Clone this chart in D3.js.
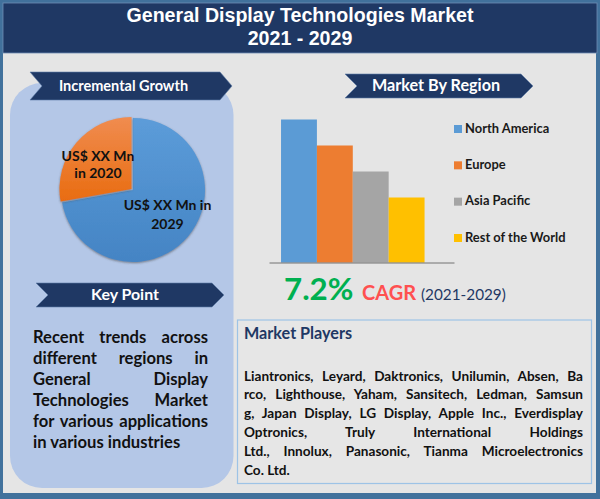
<!DOCTYPE html>
<html>
<head>
<meta charset="utf-8">
<script src="https://cdn.jsdelivr.net/npm/d3@7"></script>
<style>
  html, body { margin: 0; padding: 0; background: #fff; }
  svg { display: block; }
  text { font-family: Lato, sans-serif; font-weight: 700; }
</style>
</head>
<body>
<svg id="chart" width="600" height="499"></svg>
<script>
// values
const pieLabels = ["2029", "2020"];
const pieValues = [72.2, 27.8];
const regions = ["North America", "Europe", "Asia Pacific", "Rest of the World"];
const regionValues = [5.5, 4.5, 3.5, 2.5];
const regionColors = ["#5b9bd5", "#ed7d31", "#a5a5a5", "#ffc000"];
const titleLines = ["General Display Technologies Market", "2021 - 2029"];
const keyPointLines = ["Recent trends across", "different regions in", "General Display", "Technologies Market", "for various applications", "in various industries"];
const playerLines = [
  "Liantronics, Leyard, Daktronics, Unilumin, Absen, Ba",
  "rco, Lighthouse, Yaham, Sansitech, Ledman, Samsun",
  "g, Japan Display, LG Display, Apple Inc., Everdisplay",
  "Optronics, Truly International Holdings",
  "Ltd., Innolux, Panasonic, Tianma Microelectronics",
  "Co. Ltd."
];

const navy = "#1f3864";
const svg = d3.select("#chart");
const defs = svg.append("defs");

function gradient(id, top, bottom) {
  const g = defs.append("linearGradient").attr("id", id)
    .attr("x1", 0).attr("y1", 0).attr("x2", 0).attr("y2", 1);
  g.append("stop").attr("offset", "0%").attr("stop-color", top);
  g.append("stop").attr("offset", "100%").attr("stop-color", bottom);
}
gradient("pieBlue", "#5c9cd9", "#4484c4");
gradient("pieOrange", "#f08c50", "#e96c10");

const shadow = defs.append("filter").attr("id", "shadow")
  .attr("x", "-10%").attr("y", "-10%").attr("width", "120%").attr("height", "120%");
shadow.append("feDropShadow").attr("dx", 0).attr("dy", 1)
  .attr("stdDeviation", 1.2).attr("flood-color", "#444").attr("flood-opacity", 0.6);

// frame and header
svg.append("rect").attr("width", 600).attr("height", 499).attr("fill", "#41719c");
svg.append("rect").attr("x", 3).attr("y", 3).attr("width", 593).attr("height", 490).attr("fill", "#e5e5e5");
svg.append("rect").attr("x", 3).attr("y", 3).attr("width", 594).attr("height", 50)
  .attr("fill", navy).attr("stroke", "#6f8db3").attr("stroke-width", 0.8);

svg.selectAll(".title").data(titleLines).enter().append("text")
  .attr("class", "title")
  .attr("x", 300).attr("y", (d, i) => 22 + i * 23)
  .attr("text-anchor", "middle").attr("fill", "#fff")
  .style("font-family", "'Liberation Sans', sans-serif")
  .style("font-size", "19.6px")
  .text(d => d);

// left rounded panel
svg.append("rect").attr("x", 10).attr("y", 83).attr("width", 223.5).attr("height", 405)
  .attr("rx", 32).attr("fill", "#b4c7e7");

// ribbon headings
function ribbon(x0, x1, y0, y1, label, size, textX) {
  const cut = (y1 - y0) / 2;
  const pts = [[x0, y0], [x1 - 12, y0], [x1, y0 + cut], [x1 - 12, y1], [x0, y1], [x0 + 12, y0 + cut]];
  svg.append("polygon").attr("points", pts.join(" "))
    .attr("fill", navy).attr("stroke", "#5f7ea8").attr("stroke-width", 0.6);
  svg.append("text").attr("x", textX).attr("y", y0 + cut + size * 0.33)
    .attr("text-anchor", "middle").attr("fill", "#fff")
    .style("font-size", size + "px").text(label);
}
ribbon(30, 232, 72, 100, "Incremental Growth", 14.5, 123.5);
ribbon(345, 533, 74, 98, "Market By Region", 16.2, 436);
ribbon(36, 224, 283, 307, "Key Point", 15.9, 125);

// pie
const pie = d3.pie().sort(null).value(d => d);
const arc = d3.arc().innerRadius(0).outerRadius(72);
const pieG = svg.append("g").attr("transform", "translate(133,190)");
pieG.selectAll("path").data(pie(pieValues)).enter().append("path")
  .attr("d", arc)
  .attr("transform", (d, i) => i === 1 ? "translate(-1.5,-1)" : null)
  .attr("fill", (d, i) => i === 0 ? "url(#pieBlue)" : "url(#pieOrange)")
  .attr("filter", "url(#shadow)");

const pieText = svg.append("g").attr("fill", "#111").style("font-size", "14px");
pieText.append("text").attr("x", 98).attr("y", 161).attr("text-anchor", "middle").text("US$ XX Mn");
pieText.append("text").attr("x", 98).attr("y", 178).attr("text-anchor", "middle").text("in " + pieLabels[1]);
pieText.append("text").attr("x", 167.5).attr("y", 210).attr("text-anchor", "middle").text("US$ XX Mn in");
pieText.append("text").attr("x", 167.5).attr("y", 229).attr("text-anchor", "middle").text(pieLabels[0]);

// bars
const x = d3.scaleBand().domain(regions).range([269, 454]).paddingInner(0).paddingOuter(0.578).align(0.29);
const y = d3.scaleLinear().domain([0, 6]).range([262.5, 106.5]);
svg.selectAll(".bar").data(regions).enter().append("rect")
  .attr("class", "bar")
  .attr("x", d => x(d)).attr("width", x.bandwidth())
  .attr("y", (d, i) => y(regionValues[i]))
  .attr("height", (d, i) => y(0) - y(regionValues[i]))
  .attr("fill", (d, i) => regionColors[i]);

const xAxis = svg.append("g").attr("transform", "translate(0,262.5)")
  .call(d3.axisBottom(x).tickSize(0).tickFormat(""));
xAxis.select(".domain").attr("stroke", "#555").attr("stroke-width", 0.8);

// legend
const legendY = d3.scalePoint().domain(regions).range([129, 238]);
const legend = svg.selectAll(".legend").data(regions).enter().append("g")
  .attr("class", "legend")
  .attr("transform", d => `translate(454,${legendY(d)})`);
legend.append("rect").attr("x", 0).attr("y", -4).attr("width", 8).attr("height", 8)
  .attr("fill", (d, i) => regionColors[i]);
legend.append("text").attr("x", 11).attr("y", 3.8).attr("fill", "#1a1a1a")
  .style("font-size", "12.9px").text(d => d);

// CAGR line
svg.append("text").attr("x", 284).attr("y", 300).attr("fill", "#00b050")
  .style("font-size", "31.3px").text("7.2%");
svg.append("text").attr("x", 362).attr("y", 300).attr("fill", "#ff5050")
  .style("font-size", "20px").text("CAGR");
svg.append("text").attr("x", 421).attr("y", 300).attr("fill", navy)
  .style("font-size", "15.3px").style("font-weight", 400).text("(2021-2029)");

// market players box
svg.append("rect").attr("x", 237.5).attr("y", 320).attr("width", 354).attr("height", 163.5)
  .attr("fill", "#e6e6e6").attr("stroke", "#9dc3e6").attr("stroke-width", 1.2);
svg.append("text").attr("x", 244).attr("y", 339).attr("fill", navy)
  .style("font-size", "16.2px").text("Market Players");

// justified text block, last line stays flush left
function justified(lines, left, right, firstY, step, size) {
  const sel = svg.append("g").selectAll("text").data(lines).enter().append("text")
    .attr("x", left).attr("y", (d, i) => firstY + i * step)
    .attr("fill", "#111").style("font-size", size + "px")
    .text(d => d);
  sel.each(function (d, i) {
    if (i === lines.length - 1) return;
    const gaps = d.split(" ").length - 1;
    const extra = right - left - this.getComputedTextLength();
    d3.select(this).attr("word-spacing", gaps ? extra / gaps : 0);
  });
}
justified(keyPointLines, 33, 208, 342.5, 21, 16.6);
justified(playerLines, 244, 583, 380.5, 18.8, 13.6);
</script>
</body>
</html>
